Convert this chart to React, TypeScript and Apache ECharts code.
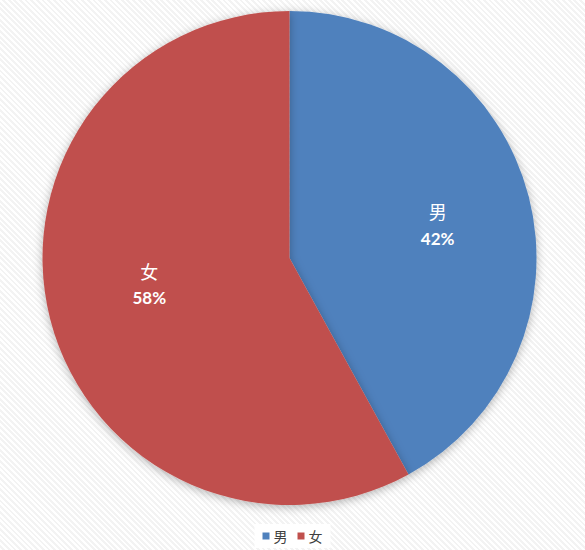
import React, { useEffect, useRef } from "react";
import * as echarts from "echarts";

const categories = ["男", "女"];
const values = [42, 58];
const colors = ["#4F81BD", "#C0504D"];
const labelShift = [
  { dx: 0, dy: 5 },
  { dx: 8, dy: -12 },
];

export default function App() {
  const ref = useRef<HTMLDivElement>(null);
  useEffect(() => {
    document.body.style.margin = "0";
    const chart = echarts.init(ref.current!, undefined, { renderer: "svg" });
    const data = categories.map((c, i) => ({ name: c, value: values[i] }));
    chart.setOption({
      animation: false,
      color: colors,
      legend: {
        data: categories,
        bottom: 2,
        left: "center",
        itemWidth: 7,
        itemHeight: 7,
        itemGap: 10,
        icon: "rect",
        backgroundColor: "#ffffff",
        padding: [5, 8, 5, 8],
        textStyle: { fontSize: 14, color: "#404040", fontFamily: "Noto Sans CJK SC", padding: [0, 0, 0, -1] },
      },
      series: [
        {
          type: "pie",
          center: [289.5, 258],
          radius: [0, 247],
          startAngle: 90,
          clockwise: true,
          data,
          label: { show: false },
          labelLine: { show: false },
          itemStyle: {
            shadowBlur: 10,
            shadowColor: "rgba(0,0,0,0.3)",
            shadowOffsetY: 2,
          },
          emphasis: { disabled: true },
          silent: true,
        },
        {
          type: "pie",
          center: [289.5, 258],
          radius: [0, 300],
          startAngle: 90,
          clockwise: true,
          data,
          itemStyle: { color: "transparent" },
          labelLine: { show: false },
          labelLayout: (p: any) => labelShift[p.dataIndex],
          label: {
            show: true,
            position: "inside",
            formatter: "{n|{b}}\n{p|{d}%}",
            rich: {
              n: { color: "#fff", fontSize: 18, fontFamily: "Noto Sans CJK SC", lineHeight: 27 },
              p: { color: "#fff", fontSize: 17, fontWeight: "bold", fontFamily: "Lato", lineHeight: 27 },
            },
          },
          emphasis: { disabled: true },
          silent: true,
        },
      ],
    });
    return () => chart.dispose();
  }, []);
  return (
    <div
      ref={ref}
      style={{
        width: 585,
        height: 550,
        background:
          "repeating-linear-gradient(45deg, #ffffff 0px, #ffffff 2px, #f3f3f3 2px, #f3f3f3 4px)",
      }}
    />
  );
}
